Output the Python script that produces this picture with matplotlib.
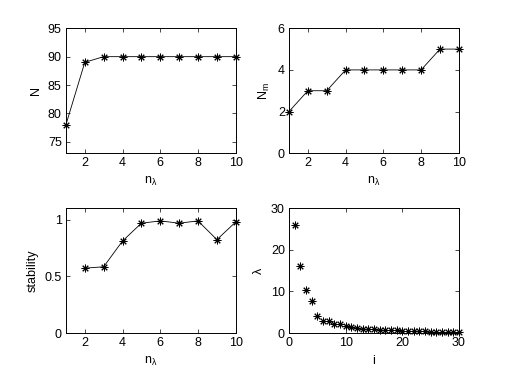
import matplotlib
matplotlib.use('Agg')
import matplotlib.pyplot as plt

plt.rcParams['font.family'] = ['Liberation Sans', 'DejaVu Sans']
plt.rcParams['mathtext.fontset'] = 'custom'
plt.rcParams['mathtext.rm'] = 'Liberation Sans'
plt.rcParams['mathtext.it'] = 'Liberation Sans:italic'
plt.rcParams['font.size'] = 9

# data
n_lambda = [1, 2, 3, 4, 5, 6, 7, 8, 9, 10]
N = [78, 89, 90, 90, 90, 90, 90, 90, 90, 90]
N_m = [2, 3, 3, 4, 4, 4, 4, 4, 5, 5]

n_lambda_stab = [2, 3, 4, 5, 6, 7, 8, 9, 10]
stability = [0.572, 0.584, 0.811, 0.968, 0.988, 0.968, 0.988, 0.823, 0.979]

i_idx = list(range(1, 31))
lam = [26.0, 16.0, 10.4, 7.6, 4.1, 3.0, 2.9, 2.3, 2.1, 1.6,
       1.5, 1.3, 1.1, 1.0, 0.9, 0.85, 0.75, 0.7, 0.65, 0.6,
       0.55, 0.5, 0.45, 0.42, 0.38, 0.35, 0.32, 0.3, 0.27, 0.25]

star = (8, 2, 0)
nl_label = r'n$_{\mathrm{λ}}$'

fig = plt.figure(figsize=(5.07, 3.82), dpi=100)

ax1 = fig.add_axes([0.130, 0.599, 0.335, 0.327])
ax2 = fig.add_axes([0.570, 0.599, 0.335, 0.327])
ax3 = fig.add_axes([0.130, 0.128, 0.335, 0.327])
ax4 = fig.add_axes([0.570, 0.128, 0.335, 0.327])

ax1.plot(n_lambda, N, 'k-', lw=0.6, marker=star, ms=5.5, mew=0.7, clip_on=False)
ax1.set_xlim(1, 10)
ax1.set_ylim(73, 95)
ax1.set_yticks([75, 80, 85, 90, 95])
ax1.set_xticks([2, 4, 6, 8, 10])
ax1.set_ylabel('N')
ax1.set_xlabel(nl_label)

ax2.plot(n_lambda, N_m, 'k-', lw=0.6, marker=star, ms=5.5, mew=0.7, clip_on=False)
ax2.set_xlim(1, 10)
ax2.set_ylim(0, 6)
ax2.set_yticks([0, 2, 4, 6])
ax2.set_xticks([2, 4, 6, 8, 10])
ax2.set_ylabel(r'N$_\mathrm{m}$')
ax2.set_xlabel(nl_label)

ax3.plot(n_lambda_stab, stability, 'k-', lw=0.6, marker=star, ms=5.5, mew=0.7, clip_on=False)
ax3.set_xlim(1, 10)
ax3.set_ylim(0, 1.1)
ax3.set_yticks([0, 0.5, 1])
ax3.set_yticklabels(['0', '0.5', '1'])
ax3.set_xticks([2, 4, 6, 8, 10])
ax3.set_ylabel('stability')
ax3.set_xlabel(nl_label)

ax4.plot(i_idx, lam, 'k', ls='none', marker=star, ms=5.5, mew=0.7, clip_on=False)
ax4.set_xlim(0, 30)
ax4.set_ylim(0, 30)
ax4.set_yticks([0, 10, 20, 30])
ax4.set_xticks([0, 10, 20, 30])
ax4.set_ylabel('λ')
ax4.set_xlabel('i')

for ax in (ax1, ax2, ax3, ax4):
    ax.tick_params(direction='in', top=True, right=True, length=3, width=0.5, pad=3)
    for s in ax.spines.values():
        s.set_linewidth(0.7)

fig.savefig('out.png', dpi=100)
